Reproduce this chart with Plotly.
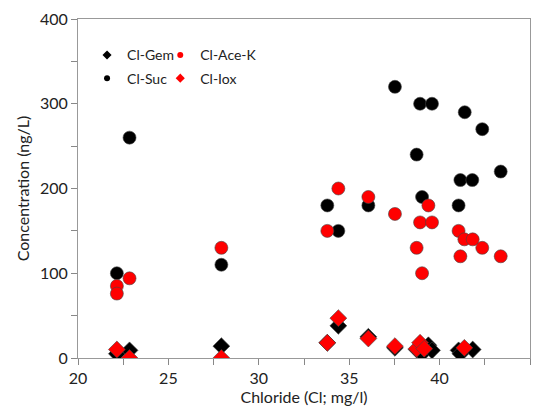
import plotly.graph_objects as go

# Cl-Suc (black circles)
suc_x = [22.15, 22.85, 27.93, 33.79, 34.40, 36.06, 37.53, 38.73, 38.92, 39.03, 39.58, 41.05, 41.15, 41.39, 41.81, 42.36, 43.38]
suc_y = [100, 260, 110, 180, 150, 180, 320, 240, 300, 190, 300, 180, 210, 290, 210, 270, 220]

# Cl-Ace-K (red circles)
ace_x = [22.15, 22.15, 22.85, 27.93, 33.79, 34.40, 36.06, 37.53, 38.73, 38.92, 39.03, 39.38, 39.58, 41.05, 41.15, 41.37, 41.83, 42.36, 43.38]
ace_y = [85, 76, 94, 130, 150, 200, 190, 170, 130, 160, 100, 180, 160, 150, 120, 140, 140, 130, 120]

# Cl-Gem (black diamonds)
gem_x = [22.15, 22.85, 27.93, 33.79, 34.40, 36.06, 37.53, 38.73, 39.03, 39.38, 39.58, 41.05, 41.15, 41.83]
gem_y = [5, 9, 14, 18, 38, 25, 12, 10, 5, 15, 9, 9, 5, 10]

# Cl-Iox (red diamonds)
iox_x = [22.15, 22.85, 27.93, 33.79, 34.40, 36.06, 37.53, 38.73, 38.92, 39.15, 41.37]
iox_y = [10, 0, 0, 18, 47, 23, 14, 11, 18, 11, 12]

series = [
    ("Cl-Suc", suc_x, suc_y, "circle", "black", "legend", 2),
    ("Cl-Ace-K", ace_x, ace_y, "circle", "#ff0000", "legend2", 1),
    ("Cl-Gem", gem_x, gem_y, "diamond", "black", "legend", 1),
    ("Cl-Iox", iox_x, iox_y, "diamond", "#ff0000", "legend2", 2),
]

fig = go.Figure()
for name, x, y, sym, col, leg, rank in series:
    fig.add_trace(go.Scatter(
        x=x, y=y, mode="markers", name=name, showlegend=False,
        marker=dict(symbol=sym, size=13, color=col, line=dict(color="#444444", width=0.6)),
    ))
# small legend swatches
for name, x, y, sym, col, leg, rank in series:
    fig.add_trace(go.Scatter(
        x=[None], y=[None], mode="markers", name=name, legend=leg, legendrank=rank,
        legendgroup=name,
        marker=dict(symbol=sym, size=6 if sym == "circle" else 7, color=col),
    ))

font = "Lato, Open Sans, sans-serif"
leg_common = dict(bgcolor="rgba(0,0,0,0)", font=dict(family=font, size=14, color="#222"),
                  tracegroupgap=2, xanchor="left", yanchor="top",
                  traceorder="grouped", itemwidth=30)

fig.update_layout(
    width=539, height=420,
    margin=dict(l=78, r=9, t=19, b=62),
    paper_bgcolor="white", plot_bgcolor="white",
    font=dict(family=font, size=16, color="#222"),
    legend=dict(x=0.02, y=0.94, **leg_common),
    legend2=dict(x=0.182, y=0.94, **leg_common),
    xaxis=dict(
        range=[20, 45], dtick=5, tick0=20, showgrid=False, zeroline=False, automargin=False,
        ticks="outside", ticklen=6, tickcolor="#888", tickwidth=1,
        showline=True, linecolor="#999", linewidth=1, mirror=True,
        minor=dict(dtick=2.5, ticks="outside", ticklen=6, tickcolor="#888"),
        title=dict(text="Chloride (Cl; mg/l)", font=dict(size=16), standoff=4),
        tickfont=dict(size=16),
    ),
    yaxis=dict(
        range=[0, 400], dtick=100, showgrid=False, zeroline=False, automargin=False,
        ticks="outside", ticklen=6, tickcolor="#888", tickwidth=1,
        showline=True, linecolor="#999", linewidth=1, mirror=True,
        minor=dict(dtick=50, ticks="outside", ticklen=6, tickcolor="#888"),
        title=dict(text="Concentration (ng/L)", font=dict(size=16), standoff=6),
        tickfont=dict(size=16),
    ),
)

fig.write_html("out.html")
